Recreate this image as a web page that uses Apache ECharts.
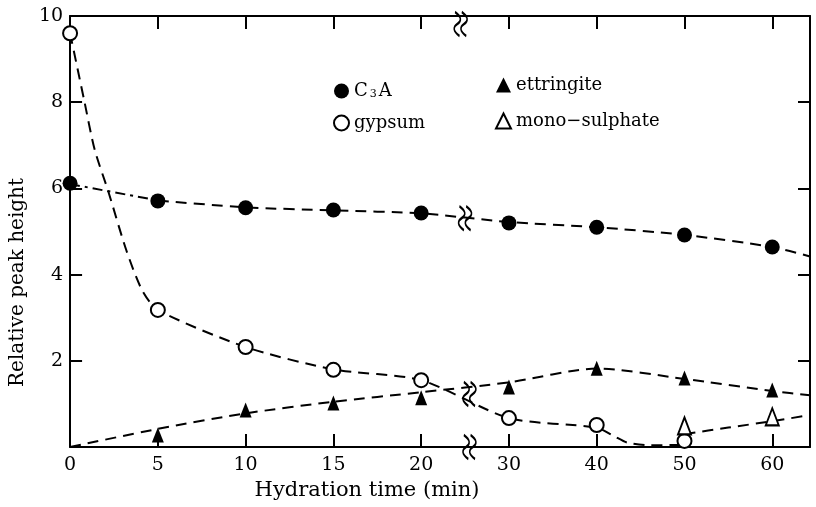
<!DOCTYPE html>
<html><head><meta charset="utf-8">
<script src="https://cdn.jsdelivr.net/npm/echarts@6/dist/echarts.min.js"></script>
<style>html,body{margin:0;padding:0;background:#fff}#c{width:816px;height:507px}</style>
</head><body><div id="c"></div>
<script>
// ---- data ----
const timeTicks = [0, 5, 10, 15, 20, 30, 40, 50, 60];
const yTicks = [0, 2, 4, 6, 8, 10];
const c3aTime = [0, 5, 10, 15, 20, 30, 40, 50, 60];
const c3aVal  = [6.12, 5.71, 5.55, 5.5, 5.43, 5.2, 5.1, 4.92, 4.64];
const gypTime = [0, 5, 10, 15, 20, 30, 40, 50];
const gypVal  = [9.6, 3.18, 2.32, 1.79, 1.55, 0.67, 0.51, 0.14];
const ettTime = [5, 10, 15, 20, 30, 40, 50, 60];
const ettVal  = [0.28, 0.86, 1.02, 1.14, 1.39, 1.83, 1.6, 1.32];
const monoTime = [50, 60];
const monoVal  = [0.49, 0.7];
// hand-drawn dashed curves
const c3aHeadT = [0, 5];
const c3aHeadV = [6.1, 5.72];
const c3aCurveT = [5, 10, 15, 20, 30, 40, 50, 60, 64.3];
const c3aCurveV = [5.72, 5.56, 5.49, 5.42, 5.22, 5.1, 4.92, 4.64, 4.42];
const gypCurveT = [0, 0.8, 1.4, 2.2, 3.2, 4.1, 5, 10, 15, 20, 30, 40, 42, 43.5, 46, 50];
const gypCurveV = [9.6, 8.05, 6.9, 5.9, 4.57, 3.64, 3.18, 2.32, 1.8, 1.55, 0.67, 0.45, 0.25, 0.1, 0.04, 0.05];
const ettCurveT = [0, 5, 10, 15, 20, 30, 40, 50, 60, 64.3];
const ettCurveV = [0, 0.42, 0.78, 1.05, 1.27, 1.5, 1.82, 1.58, 1.3, 1.2];
const monoCurveT = [50, 55, 60, 64.3];
const monoCurveV = [0.3, 0.45, 0.6, 0.74];
const breakTime = 25.5;
const xMaxTime = 64.3;

// broken time axis: equal spacing per tick
function pos(t) { return t <= 20 ? t / 5 : (t < 30 ? 4 + (t - 20) / 10 : 5 + (t - 30) / 10); }
function pts(T, V) { return T.map((t, i) => [pos(t), V[i]]); }
function interp(T, V, t) {
  for (let i = 0; i < T.length - 1; i++) if (t >= T[i] && t <= T[i + 1]) return V[i] + (V[i + 1] - V[i]) * (t - T[i]) / (T[i + 1] - T[i]);
  return V[V.length - 1];
}

const FONT = 'DejaVu Serif';
const chart = echarts.init(document.getElementById('c'), null, {renderer: 'canvas'});
const dash = {color: '#000', width: 2, type: [11, 7]};
const curve = (T, V, ls) => ({type: 'line', data: pts(T, V), symbol: 'none', smooth: 0.25, lineStyle: ls || dash, silent: true, z: 2});
const xLab = v => { const i = Math.round(v); return Math.abs(v - i) < 1e-6 && i < timeTicks.length ? String(timeTicks[i]) : ''; };
const breakPath = 'path://M3,0 C9,5 9,9 5,12 C1,15 1,19 7,24 M9,0 C15,5 15,9 11,12 C7,15 7,19 13,24';
const bx = pos(breakTime);
const crossV = (interp(gypCurveT, gypCurveV, breakTime) + interp(ettCurveT, ettCurveV, breakTime)) / 2;
const line = {onZero: false, lineStyle: {color: '#000', width: 2}};
const tick = len => ({show: true, inside: true, length: len, lineStyle: {color: '#000', width: 2}});

chart.setOption({
  backgroundColor: '#fff',
  animation: false,
  grid: {left: 68, right: 6, top: 16, bottom: 60},
  legend: [
    {left: 328, top: 77, orient: 'vertical', itemGap: 14, itemWidth: 15, itemHeight: 15,
     data: ['C3A', 'gypsum'], textStyle: {fontFamily: FONT, fontSize: 18, color: '#000', rich: {s: {fontFamily: FONT, fontSize: 11, color: '#000', padding: [6, 2, 0, 2]}}},
     formatter: n => n === 'C3A' ? 'C{s|3}A' : n},
    {left: 490, top: 71, orient: 'vertical', itemGap: 18, itemWidth: 15, itemHeight: 15,
     data: ['ettringite', 'mono−sulphate'], textStyle: {fontFamily: FONT, fontSize: 18, color: '#000'}}
  ],
  xAxis: [{
    type: 'value', min: 0, max: pos(xMaxTime), interval: 1, position: 'bottom',
    axisLine: line, axisTick: tick(13),
    axisLabel: {formatter: xLab, fontFamily: FONT, fontSize: 19, color: '#000', margin: 9},
    splitLine: {show: false},
    name: 'Hydration time (min)', nameLocation: 'middle', nameGap: 30,
    nameTextStyle: {fontFamily: FONT, fontSize: 21, color: '#000', padding: [0, 146, 0, 0]}
  }, {
    type: 'value', min: 0, max: pos(xMaxTime), interval: 1, position: 'top',
    axisLine: line, axisTick: tick(13),
    axisLabel: {show: false}, splitLine: {show: false}
  }],
  yAxis: [{
    type: 'value', min: yTicks[0], max: yTicks[yTicks.length - 1], interval: 2, position: 'left',
    axisLine: Object.assign({show: true}, line), axisTick: tick(12),
    axisLabel: {formatter: v => v === 0 ? '' : String(v), fontFamily: FONT, fontSize: 19, color: '#000', margin: 7},
    splitLine: {show: false},
    name: 'Relative peak height', nameLocation: 'middle', nameGap: 41,
    nameTextStyle: {fontFamily: FONT, fontSize: 20, color: '#000', padding: [0, 102, 0, 0]}
  }, {
    type: 'value', min: yTicks[0], max: yTicks[yTicks.length - 1], interval: 2, position: 'right',
    axisLine: Object.assign({show: true}, line), axisTick: tick(12),
    axisLabel: {show: false}, splitLine: {show: false}
  }],
  series: [
    curve(c3aHeadT, c3aHeadV, {color: '#000', width: 2, type: [10, 5, 3, 5]}),
    curve(c3aCurveT, c3aCurveV),
    curve(gypCurveT, gypCurveV),
    curve(ettCurveT, ettCurveV),
    curve(monoCurveT, monoCurveV),
    {name: 'C3A', type: 'scatter', data: pts(c3aTime, c3aVal), symbol: 'circle', symbolSize: 15,
     itemStyle: {color: '#000', opacity: 1}, z: 4},
    {name: 'gypsum', type: 'scatter', data: pts(gypTime, gypVal), symbol: 'circle', symbolSize: 14,
     itemStyle: {color: '#fff', borderColor: '#000', borderWidth: 2, opacity: 1}, z: 4},
    {name: 'ettringite', type: 'scatter', data: pts(ettTime, ettVal), symbol: 'triangle', symbolSize: [12, 15],
     itemStyle: {color: '#000', opacity: 1}, z: 4},
    {name: 'mono−sulphate', type: 'scatter', data: pts(monoTime, monoVal), symbol: 'triangle', symbolSize: [13, 17],
     itemStyle: {color: '#fff', borderColor: '#000', borderWidth: 2, opacity: 1}, z: 4},
    {type: 'scatter', silent: true, z: 5, symbol: breakPath, symbolSize: [13, 24],
     itemStyle: {color: 'rgba(0,0,0,0)', borderColor: '#000', borderWidth: 2, opacity: 1},
     data: [
       {value: [bx, 0]},
       {value: [bx - 0.1, 10], symbolOffset: [0, 8]},
       {value: [bx - 0.05, interp(c3aCurveT, c3aCurveV, breakTime)]},
       {value: [bx, crossV]}
     ]}
  ]
});
</script></body></html>
